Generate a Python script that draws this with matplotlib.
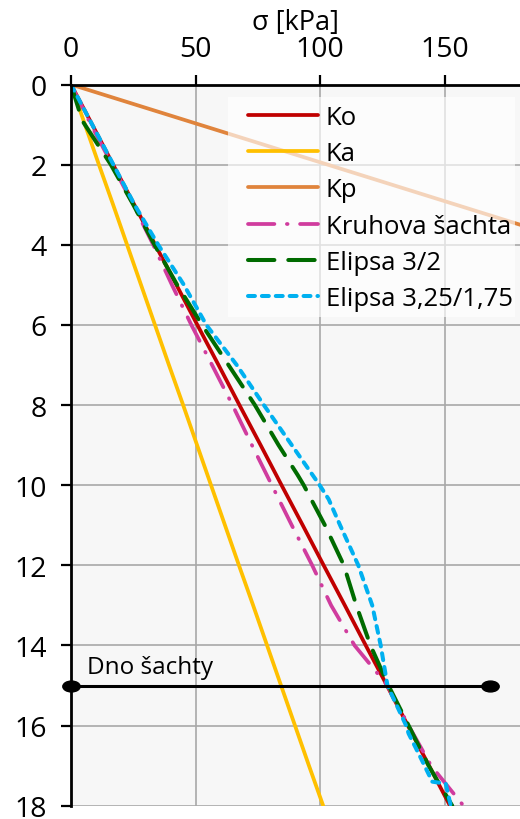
import matplotlib
matplotlib.use("Agg")
import matplotlib.pyplot as plt
from matplotlib.path import Path
from matplotlib.patches import Rectangle
from matplotlib.transforms import Affine2D

plt.rcParams['font.family'] = ['Open Sans', 'DejaVu Sans']
plt.rcParams['lines.scale_dashes'] = False

# hloubka [m]
depth = [0, 1, 2, 3, 4, 5, 6, 7, 8, 9, 10, 11, 12, 13, 14, 15, 16, 17, 18]

# napeti [kPa]
ko = [0, 8.5, 16.9, 25.4, 33.8, 42.3, 50.7, 59.2, 67.6, 76.1, 84.5, 93.0, 101.4,
      109.9, 118.3, 126.8, 135.2, 143.7, 152.1]
ka = [0, 5.6, 11.2, 16.9, 22.5, 28.1, 33.7, 39.3, 45.0, 50.6, 56.2, 61.8, 67.4,
      73.1, 78.7, 84.3, 89.9, 95.5, 101.2]
kp = [0, 51.5, 103, 154.5, 206, 257.5, 309, 360.5, 412, 463.5, 515, 566.5, 618,
      669.5, 721, 772.5, 824, 875.5, 927]

kruh = [0, 8.0, 16.5, 25.0, 33.0, 40.5, 48.3, 56.6, 64.8, 72.6, 80.6, 88.6, 96.8,
        104.4, 113.8, 127.0, 135.5, 144.5, 157.5]

el32_depth = [0, 0.9, 2, 3, 4, 5, 6, 7, 8, 9, 9.75, 10, 11, 12, 13, 14, 15, 16, 17, 18]
el32 = [0, 4.5, 16.0, 25.0, 33.5, 42.6, 52.6, 63.2, 73.8, 83.3, 91.0, 93.4, 101.9,
        109.5, 114.5, 120.2, 127.4, 135.5, 143.5, 153.0]

el325_depth = [0, 1, 2, 3, 4, 5, 6, 7, 8, 9, 10, 10.35, 11, 12, 13, 14, 15, 16,
               16.2, 16.8, 17.4, 17.45, 18]
el325 = [0, 8.5, 17.0, 25.5, 35.0, 45.3, 54.3, 66.5, 77.4, 88.6, 99.8, 103.4, 108.0,
         115.3, 120.9, 124.3, 127.0, 134.5, 135.5, 140.3, 145.0, 150.4, 152.4]

dno_depth = 15
dno_x = [0, 168]

fig = plt.figure(figsize=(5.2, 8.2), dpi=100)
ax = fig.add_axes([71 / 520, 13.3 / 820, 448.5 / 520, 721.2 / 820])
ax.set_facecolor('#f7f7f7')

ax.plot(ko, depth, color='#c00000', lw=2.7, label='Ko', solid_capstyle='round')
ax.plot(ka, depth, color='#ffc000', lw=2.7, label='Ka', solid_capstyle='round')
ax.plot(kp, depth, color='#e0843c', lw=2.7, label='Kp', solid_capstyle='round')
ax.plot(kruh, depth, color='#d03c9e', lw=2.7, label='Kruhova šachta',
        dashes=(19, 9, 0.5, 9), dash_capstyle='round')
ax.plot(el32, el32_depth, color='#006b00', lw=2.9, label='Elipsa 3/2',
        dashes=(19, 10), dash_capstyle='round')
ax.plot(el325, el325_depth, color='#00b0f0', lw=2.9, label='Elipsa 3,25/1,75',
        dashes=(5, 5), dash_capstyle='round')

# dno sachty
oval = Path.unit_circle().transformed(Affine2D().scale(1.6, 1.0))
ax.plot(dno_x, [dno_depth, dno_depth], color='black', lw=2.2,
        marker=oval, markersize=12.5, clip_on=False, zorder=5)
ax.text(6.3, 14.7, 'Dno šachty', fontsize=17.5, va='baseline', ha='left')

ax.set_xlim(0, 180)
ax.set_ylim(18, 0)
ax.set_xticks([0, 50, 100, 150])
ax.set_yticks(range(0, 19, 2))
ax.xaxis.tick_top()
ax.xaxis.set_label_position('top')
ax.set_xlabel('σ [kPa]', fontsize=19.5, labelpad=4)
ax.tick_params(axis='both', labelsize=20.5, length=7.5, width=1.6, color='black')
ax.tick_params(axis='x', pad=8)
ax.tick_params(axis='y', pad=10)

ax.grid(True, color='#a8a8a8', lw=1.2)
ax.set_axisbelow(True)
for s in ['right', 'bottom']:
    ax.spines[s].set_visible(False)
for s in ['top', 'left']:
    ax.spines[s].set_linewidth(2)
    ax.spines[s].set_color('black')

# polopruhledne pozadi legendy
ax.add_patch(Rectangle((0.35, 0.6776), 0.64, 0.305, transform=ax.transAxes,
                       facecolor='white', alpha=0.65, edgecolor='none', zorder=4.5))
leg = ax.legend(loc='upper left', bbox_to_anchor=(0.3947, 0.9721), borderaxespad=0,
                fontsize=18.5, handlelength=2.72, handletextpad=0.3, labelspacing=0.44,
                borderpad=0, frameon=False)

fig.savefig('out.png', dpi=100)
